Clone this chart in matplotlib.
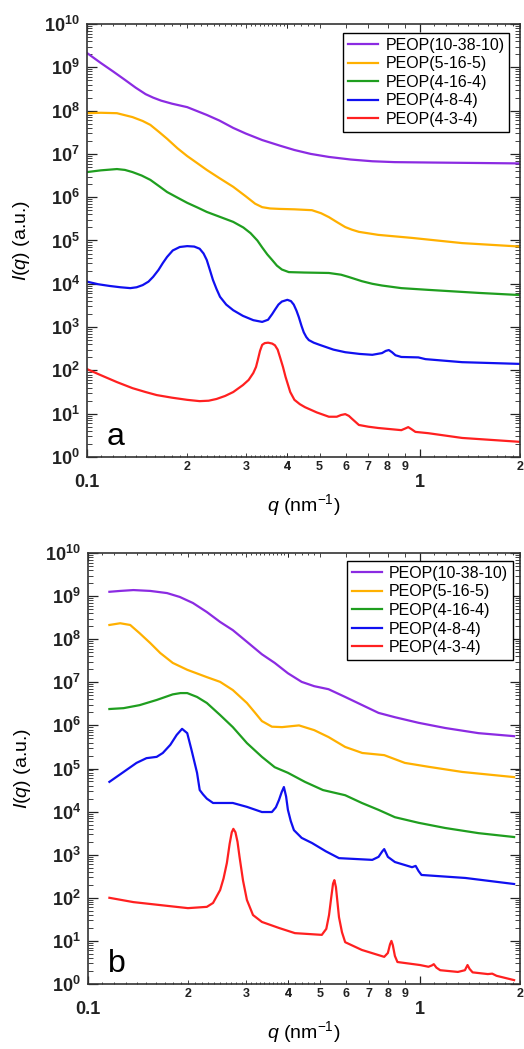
import numpy as np
import matplotlib
matplotlib.use('Agg')
import matplotlib.pyplot as plt
from matplotlib.ticker import FixedLocator, FixedFormatter, LogLocator, NullFormatter

plt.rcParams['font.family'] = ['Liberation Sans', 'DejaVu Sans']
plt.rcParams['mathtext.fontset'] = 'custom'
plt.rcParams['mathtext.rm'] = 'Liberation Sans'
plt.rcParams['mathtext.it'] = 'Liberation Sans:italic'
plt.rcParams['mathtext.bf'] = 'Liberation Sans:bold'

labels = ['PEOP(10-38-10)', 'PEOP(5-16-5)', 'PEOP(4-16-4)', 'PEOP(4-8-4)', 'PEOP(4-3-4)']
colors = ['#8B2BE2', '#FFB000', '#1F9E1F', '#1010F0', '#FF2020']

# intensities are stored as log10(I), i.e. decade positions on the y axis

# ---- panel a ----
qa_purple = [0.100, 0.110, 0.120, 0.130, 0.140, 0.150, 0.158, 0.167, 0.180, 0.200, 0.229,
             0.250, 0.275, 0.300, 0.336, 0.380, 0.420, 0.470, 0.533, 0.620, 0.720, 0.840,
             1.100, 1.500, 2.000]
la_purple = [9.33, 9.10, 8.90, 8.71, 8.53, 8.38, 8.30, 8.23, 8.16, 8.08, 7.90,
             7.77, 7.60, 7.47, 7.32, 7.19, 7.09, 7.00, 6.93, 6.87, 6.83, 6.81,
             6.80, 6.79, 6.78]

qa_orange = [0.100, 0.110, 0.123, 0.137, 0.147, 0.155, 0.165, 0.174, 0.187, 0.200, 0.215,
             0.229, 0.250, 0.275, 0.300, 0.320, 0.336, 0.355, 0.378, 0.420, 0.474, 0.505,
             0.533, 0.565, 0.597, 0.625, 0.656, 0.750, 0.947, 1.340, 2.000]
la_orange = [7.94, 7.95, 7.94, 7.85, 7.76, 7.67, 7.50, 7.35, 7.13, 6.95, 6.78,
             6.63, 6.44, 6.24, 6.02, 5.85, 5.77, 5.74, 5.73, 5.72, 5.70, 5.63,
             5.54, 5.42, 5.31, 5.25, 5.20, 5.13, 5.06, 4.94, 4.86]

qa_green = [0.100, 0.110, 0.123, 0.130, 0.137, 0.146, 0.155, 0.165, 0.174, 0.187, 0.200,
            0.215, 0.229, 0.250, 0.275, 0.295, 0.310, 0.325, 0.336, 0.348, 0.360, 0.372,
            0.385, 0.404, 0.450, 0.533, 0.580, 0.610, 0.670, 0.720, 0.770, 0.880, 1.060,
            1.500, 2.000]
la_green = [6.58, 6.62, 6.65, 6.63, 6.58, 6.50, 6.40, 6.25, 6.12, 5.99, 5.87,
            5.76, 5.66, 5.55, 5.43, 5.30, 5.17, 5.00, 4.84, 4.68, 4.55, 4.42,
            4.33, 4.27, 4.26, 4.25, 4.21, 4.16, 4.06, 4.00, 3.96, 3.90, 3.86,
            3.79, 3.74]

qa_blue = [0.100, 0.108, 0.117, 0.126, 0.135, 0.141, 0.147, 0.153, 0.158, 0.164, 0.169,
           0.174, 0.181, 0.190, 0.200, 0.210, 0.218, 0.224, 0.229, 0.234, 0.239, 0.245,
           0.251, 0.262, 0.275, 0.294, 0.316, 0.336, 0.350, 0.360, 0.367, 0.376, 0.385,
           0.400, 0.410, 0.418, 0.426, 0.433, 0.441, 0.448, 0.456, 0.464, 0.480, 0.500,
           0.550, 0.597, 0.660, 0.720, 0.770, 0.790, 0.807, 0.825, 0.845, 0.880, 0.990,
           1.040, 1.340, 2.000]
la_blue = [4.05, 3.99, 3.95, 3.92, 3.90, 3.92, 3.97, 4.05, 4.16, 4.32, 4.48,
           4.62, 4.77, 4.85, 4.87, 4.86, 4.81, 4.70, 4.55, 4.32, 4.09, 3.88,
           3.70, 3.52, 3.39, 3.26, 3.16, 3.12, 3.17, 3.30, 3.40, 3.52, 3.59,
           3.63, 3.60, 3.52, 3.38, 3.23, 3.03, 2.88, 2.77, 2.70, 2.64, 2.59,
           2.48, 2.42, 2.38, 2.36, 2.40, 2.45, 2.47, 2.42, 2.35, 2.31, 2.30,
           2.26, 2.19, 2.15]

qa_red = [0.100, 0.110, 0.123, 0.137, 0.150, 0.162, 0.180, 0.200, 0.218, 0.232, 0.245,
          0.260, 0.275, 0.294, 0.306, 0.316, 0.322, 0.326, 0.331, 0.336, 0.342, 0.350,
          0.360, 0.367, 0.374, 0.380, 0.388, 0.395, 0.408, 0.420, 0.436, 0.452, 0.490,
          0.533, 0.563, 0.580, 0.597, 0.612, 0.626, 0.656, 0.700, 0.750, 0.880, 0.905,
          0.923, 0.945, 0.970, 1.060, 1.340, 2.000]
la_red = [2.03, 1.89, 1.73, 1.59, 1.50, 1.43, 1.37, 1.32, 1.29, 1.30, 1.34,
          1.41, 1.50, 1.66, 1.78, 1.94, 2.08, 2.24, 2.45, 2.59, 2.63, 2.64,
          2.62, 2.58, 2.48, 2.31, 2.08, 1.85, 1.50, 1.32, 1.22, 1.15, 1.03,
          0.93, 0.93, 0.97, 0.99, 0.95, 0.88, 0.74, 0.70, 0.67, 0.62, 0.66,
          0.69, 0.64, 0.58, 0.55, 0.44, 0.35]

# ---- panel b ----
qb_purple = [0.116, 0.125, 0.137, 0.154, 0.173, 0.189, 0.207, 0.228, 0.250, 0.273, 0.301,
             0.334, 0.365, 0.400, 0.440, 0.480, 0.530, 0.595, 0.670, 0.750, 0.840, 0.990,
             1.190, 1.500, 1.920]
lb_purple = [9.10, 9.12, 9.14, 9.12, 9.07, 8.98, 8.84, 8.63, 8.40, 8.21, 7.94,
             7.65, 7.45, 7.21, 7.01, 6.91, 6.84, 6.66, 6.47, 6.29, 6.19, 6.06,
             5.94, 5.82, 5.75]

qb_orange = [0.116, 0.125, 0.134, 0.143, 0.154, 0.165, 0.180, 0.199, 0.228, 0.250, 0.273,
             0.301, 0.318, 0.334, 0.358, 0.384, 0.432, 0.480, 0.530, 0.595, 0.670, 0.780,
             0.900, 1.060, 1.340, 1.920]
lb_orange = [8.33, 8.37, 8.33, 8.14, 7.91, 7.68, 7.45, 7.29, 7.12, 7.01, 6.82,
             6.52, 6.30, 6.10, 5.97, 5.96, 6.00, 5.89, 5.73, 5.50, 5.36, 5.31,
             5.13, 5.04, 4.92, 4.80]

qb_green = [0.116, 0.128, 0.143, 0.161, 0.180, 0.190, 0.199, 0.213, 0.228, 0.250, 0.273,
            0.301, 0.334, 0.365, 0.400, 0.450, 0.510, 0.595, 0.668, 0.750, 0.840, 0.990,
            1.190, 1.500, 1.920]
lb_green = [6.38, 6.40, 6.47, 6.59, 6.72, 6.75, 6.75, 6.66, 6.52, 6.24, 5.96,
            5.59, 5.27, 5.03, 4.90, 4.69, 4.50, 4.38, 4.20, 4.04, 3.87, 3.74,
            3.62, 3.50, 3.41]

qb_blue = [0.116, 0.128, 0.140, 0.150, 0.161, 0.168, 0.177, 0.185, 0.192, 0.199, 0.205,
           0.213, 0.217, 0.222, 0.228, 0.238, 0.273, 0.301, 0.334, 0.358, 0.368, 0.376,
           0.383, 0.389, 0.395, 0.400, 0.408, 0.417, 0.440, 0.473, 0.520, 0.570, 0.718,
           0.750, 0.770, 0.780, 0.790, 0.800, 0.840, 0.946, 0.970, 0.990, 1.010, 1.370,
           1.920]
lb_blue = [4.69, 4.92, 5.13, 5.24, 5.27, 5.36, 5.55, 5.78, 5.92, 5.82, 5.43,
           4.90, 4.50, 4.40, 4.30, 4.20, 4.20, 4.11, 3.99, 3.99, 4.10, 4.27,
           4.45, 4.57, 4.35, 4.04, 3.78, 3.57, 3.39, 3.27, 3.08, 2.92, 2.88,
           2.95, 3.08, 3.13, 3.04, 2.95, 2.83, 2.71, 2.74, 2.62, 2.53, 2.46,
           2.32]

qb_red = [0.116, 0.137, 0.170, 0.200, 0.228, 0.238, 0.250, 0.256, 0.262, 0.267, 0.271,
          0.274, 0.278, 0.282, 0.286, 0.293, 0.301, 0.314, 0.334, 0.376, 0.420, 0.506,
          0.522, 0.532, 0.540, 0.547, 0.552, 0.558, 0.564, 0.570, 0.582, 0.595, 0.668,
          0.780, 0.800, 0.812, 0.820, 0.828, 0.840, 0.855, 1.000, 1.060, 1.085, 1.100,
          1.120, 1.150, 1.300, 1.365, 1.390, 1.410, 1.440, 1.600, 1.650, 1.700, 1.920]
lb_red = [2.00, 1.90, 1.82, 1.76, 1.79, 1.88, 2.18, 2.45, 2.81, 3.25, 3.52,
          3.60, 3.52, 3.30, 2.95, 2.40, 1.95, 1.60, 1.44, 1.30, 1.18, 1.14,
          1.28, 1.60, 2.00, 2.33, 2.41, 2.25, 1.90, 1.55, 1.20, 0.97, 0.79,
          0.63, 0.72, 0.92, 1.00, 0.90, 0.65, 0.51, 0.44, 0.40, 0.43, 0.46,
          0.38, 0.32, 0.28, 0.32, 0.44, 0.35, 0.27, 0.23, 0.24, 0.19, 0.09]

panel_a = [(qa_purple, la_purple), (qa_orange, la_orange), (qa_green, la_green),
           (qa_blue, la_blue), (qa_red, la_red)]
panel_b = [(qb_purple, lb_purple), (qb_orange, lb_orange), (qb_green, lb_green),
           (qb_blue, lb_blue), (qb_red, lb_red)]

# x tick layout
x_labeled = [0.2, 0.3, 0.4, 0.5, 0.6, 0.7, 0.8, 0.9, 2.0]
x_labels = ['2', '3', '4', '5', '6', '7', '8', '9', '2']
x_fine = list(np.round(np.arange(0.11, 0.40, 0.01), 2)) + [0.42, 0.44, 0.46, 0.48] + \
         list(np.round(np.arange(1.1, 2.0, 0.1), 1))
x_fine = [v for v in x_fine if v not in (0.2, 0.3)]


def style_axes(ax, letter, leg_anchor):
    ax.set_xscale('log')
    ax.set_yscale('log')
    ax.set_xlim(0.1, 2.0)
    ax.set_ylim(1, 1e10)

    ax.yaxis.set_major_locator(FixedLocator([10.0 ** k for k in range(11)]))
    ax.yaxis.set_major_formatter(FixedFormatter([r'$\mathbf{10^{%d}}$' % k for k in range(11)]))
    ax.yaxis.set_minor_locator(LogLocator(base=10, subs=np.arange(2, 10), numticks=30))
    ax.yaxis.set_minor_formatter(NullFormatter())

    ax.xaxis.set_major_locator(FixedLocator([0.1, 1.0]))
    ax.xaxis.set_major_formatter(FixedFormatter(['0.1', '1']))
    minor_locs = sorted(x_labeled + x_fine)
    minor_text = [x_labels[x_labeled.index(v)] if v in x_labeled else '' for v in minor_locs]
    ax.xaxis.set_minor_locator(FixedLocator(minor_locs))
    ax.xaxis.set_minor_formatter(FixedFormatter(minor_text))

    ax.tick_params(which='both', direction='in', top=True, right=True, colors='#222222')
    ax.tick_params(axis='y', which='major', length=7, width=0.9, labelsize=13, pad=5)
    ax.tick_params(axis='y', which='minor', length=3.5, width=0.6)
    ax.tick_params(axis='x', which='major', length=6, width=0.9, labelsize=13, pad=12)
    ax.tick_params(axis='x', which='minor', length=1.5, width=0.6, labelsize=9, pad=3)
    for lab in ax.get_xticklabels(which='both'):
        lab.set_fontweight('bold')

    # labeled minor ticks are a little longer than the fine ones
    for tick, loc in zip(ax.xaxis.get_minor_ticks(), ax.xaxis.get_minorticklocs()):
        if any(abs(loc - v) < 1e-6 for v in x_labeled):
            tick.tick1line.set_markersize(3.2)
            tick.tick2line.set_markersize(3.2)

    for sp in ax.spines.values():
        sp.set_linewidth(1.2)
        sp.set_color('#333333')

    ax.set_xlabel(r'$q$ (nm$^{-1}$)', fontsize=14)
    ax.xaxis.set_label_coords(0.5, -0.082)
    ax.set_ylabel(r'$I$($q$) (a.u.)', fontsize=14)
    ax.yaxis.set_label_coords(-0.128, 0.5)

    leg = ax.legend(loc='upper right', bbox_to_anchor=leg_anchor, fontsize=11.5,
                    frameon=True, fancybox=False, edgecolor='black', framealpha=1,
                    handlelength=1.9, handletextpad=0.45, labelspacing=0.22,
                    borderpad=0.3, borderaxespad=0)
    leg.get_frame().set_linewidth(1.0)

    ax.text(0.046, 0.028, letter, transform=ax.transAxes, fontsize=23, va='baseline')


fig = plt.figure(figsize=(5.24, 10.49), dpi=100)
ax_a = fig.add_axes([87 / 524, 1 - 457 / 1049, 433 / 524, 433 / 1049])
ax_b = fig.add_axes([88 / 524, 1 - 984 / 1049, 432 / 524, 431 / 1049])

for ax, series in ((ax_a, panel_a), (ax_b, panel_b)):
    for (q, logi), lab, col in zip(series, labels, colors):
        ax.plot(q, np.power(10.0, logi), color=col, lw=1.6, label=lab,
                solid_joinstyle='round')

style_axes(ax_a, 'a', (0.975, 0.979))
style_axes(ax_b, 'b', (0.984, 0.981))

fig.savefig('out.png', dpi=100)
